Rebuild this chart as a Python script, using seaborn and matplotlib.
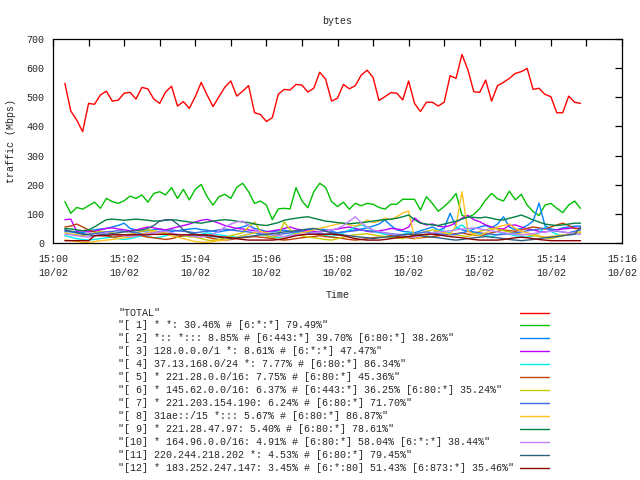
import pandas as pd
import matplotlib
matplotlib.use("Agg")
import matplotlib.pyplot as plt
import matplotlib.dates as mdates
from matplotlib.lines import Line2D
import seaborn as sns

# samples every 10 s, 15:00:20 .. 15:14:50
times = pd.date_range("2023-10-02 15:00:20", periods=88, freq="10s")

labels = [
    '"TOTAL"',
    '"[ 1] * *: 30.46% # [6:*:*] 79.49%"',
    '"[ 2] *:: *::: 8.85% # [6:443:*] 39.70% [6:80:*] 38.26%"',
    '"[ 3] 128.0.0.0/1 *: 8.61% # [6:*:*] 47.47%"',
    '"[ 4] 37.13.168.0/24 *: 7.77% # [6:80:*] 86.34%"',
    '"[ 5] * 221.28.0.0/16: 7.75% # [6:80:*] 45.36%"',
    '"[ 6] * 145.62.0.0/16: 6.37% # [6:443:*] 36.25% [6:80:*] 35.24%"',
    '"[ 7] * 221.203.154.190: 6.24% # [6:80:*] 71.70%"',
    '"[ 8] 31ae::/15 *::: 5.67% # [6:80:*] 86.87%"',
    '"[ 9] * 221.28.47.97: 5.40% # [6:80:*] 78.61%"',
    '"[10] * 164.96.0.0/16: 4.91% # [6:80:*] 58.04% [6:*:*] 38.44%"',
    '"[11] 220.244.218.202 *: 4.53% # [6:80:*] 79.45%"',
    '"[12] * 183.252.247.147: 3.45% # [6:*:80] 51.43% [6:873:*] 35.46%"',
]

# gnuplot default line colours
colors = ["#ff0000", "#00c000", "#0080ff", "#c000ff", "#00eeee", "#c04000",
          "#c8c800", "#4169e1", "#ffc020", "#008040", "#c080ff", "#306080",
          "#8b0000"]

total = [548, 453, 422, 382, 479, 476, 508, 521, 487, 490, 514,
         517, 494, 534, 529, 494, 479, 518, 538, 470, 485, 462,
         502, 551, 508, 468, 502, 535, 556, 504, 521, 540, 447,
         441, 417, 430, 510, 527, 525, 544, 542, 518, 531, 586,
         562, 487, 497, 544, 529, 540, 576, 593, 568, 489, 502,
         516, 514, 491, 556, 479, 451, 483, 483, 470, 483, 574,
         565, 647, 594, 519, 517, 559, 487, 540, 551, 565, 582,
         588, 599, 527, 531, 510, 502, 447, 447, 504, 483, 479]

s1 = [142, 102, 122, 116, 128, 140, 119, 153, 142, 136, 145,
      161, 153, 165, 140, 170, 176, 165, 190, 153, 184, 148,
      184, 201, 159, 130, 159, 167, 153, 191, 205, 176, 136,
      144, 130, 80, 117, 119, 117, 190, 144, 121, 176, 205,
      191, 142, 125, 140, 116, 136, 128, 136, 133, 122, 116,
      133, 133, 150, 150, 150, 113, 159, 136, 109, 125, 144,
      170, 95, 88, 98, 118, 148, 170, 152, 144, 178, 148,
      167, 130, 108, 94, 130, 136, 119, 104, 130, 144, 119]

s2 = [45, 40, 38, 35, 42, 45, 48, 50, 55, 60, 68,
      50, 45, 40, 42, 45, 48, 44, 40, 42, 45, 48,
      50, 46, 44, 40, 38, 42, 45, 50, 55, 62, 50,
      45, 40, 38, 42, 44, 40, 38, 42, 45, 48, 50,
      45, 40, 35, 38, 42, 45, 48, 52, 58, 65, 79,
      60, 45, 40, 38, 35, 42, 48, 55, 45, 50, 102,
      55, 45, 40, 48, 55, 60, 52, 65, 90, 55, 45,
      50, 60, 75, 137, 60, 48, 45, 52, 55, 58, 58]

s3 = [80, 82, 40, 42, 38, 40, 45, 50, 52, 48, 45,
      42, 45, 50, 55, 52, 48, 45, 50, 55, 60, 65,
      72, 78, 81, 75, 68, 60, 55, 50, 48, 45, 42,
      40, 38, 42, 45, 50, 55, 48, 45, 42, 40, 38,
      42, 45, 48, 52, 55, 50, 45, 40, 38, 42, 45,
      50, 48, 45, 55, 86, 70, 62, 65, 58, 55, 60,
      70, 85, 95, 80, 73, 62, 55, 50, 48, 60, 62,
      55, 48, 45, 40, 38, 42, 45, 48, 50, 52, 50]

s4 = [25, 20, 15, 12, 10, 12, 15, 18, 20, 15, 12,
      15, 20, 25, 22, 18, 20, 25, 30, 28, 25, 22,
      25, 30, 35, 32, 28, 25, 22, 20, 25, 30, 35,
      30, 25, 20, 18, 22, 28, 35, 40, 38, 35, 30,
      25, 22, 28, 35, 45, 55, 62, 55, 40, 35, 30,
      28, 25, 30, 35, 32, 28, 25, 35, 45, 40, 35,
      50, 62, 45, 35, 30, 25, 22, 28, 35, 30, 25,
      22, 20, 25, 35, 55, 40, 30, 25, 28, 30, 32]

s5 = [55, 58, 65, 55, 45, 38, 30, 25, 20, 22, 25,
      28, 30, 25, 20, 18, 15, 12, 15, 20, 25, 28,
      30, 25, 20, 15, 12, 10, 12, 15, 18, 20, 22,
      20, 18, 15, 12, 10, 12, 15, 18, 20, 22, 25,
      22, 20, 18, 15, 12, 10, 12, 15, 18, 20, 22,
      25, 22, 20, 18, 15, 18, 20, 22, 25, 28, 30,
      32, 35, 30, 28, 25, 30, 35, 40, 45, 42, 40,
      45, 50, 55, 52, 48, 55, 62, 68, 60, 50, 48]

s6 = [35, 30, 28, 25, 30, 35, 40, 38, 35, 30, 28,
      30, 35, 40, 45, 42, 38, 35, 30, 28, 25, 22,
      20, 15, 10, 8, 12, 18, 25, 30, 35, 55, 72,
      40, 25, 20, 25, 72, 45, 30, 25, 20, 18, 15,
      12, 10, 15, 20, 25, 28, 30, 32, 28, 25, 22,
      20, 18, 15, 22, 28, 35, 40, 45, 42, 35, 30,
      28, 25, 22, 30, 40, 45, 50, 48, 42, 38, 35,
      30, 28, 25, 22, 18, 15, 20, 25, 30, 35, 38]

s7 = [40, 38, 35, 32, 30, 32, 35, 38, 40, 42, 40,
      38, 35, 32, 35, 38, 40, 42, 45, 42, 40, 38,
      35, 38, 40, 42, 45, 48, 45, 42, 40, 38, 35,
      32, 30, 28, 30, 32, 35, 38, 40, 38, 35, 32,
      30, 32, 35, 38, 40, 42, 45, 42, 40, 38, 35,
      32, 30, 28, 30, 32, 35, 38, 35, 32, 30, 28,
      30, 35, 40, 38, 35, 32, 30, 28, 30, 32, 35,
      38, 42, 45, 48, 50, 45, 40, 38, 35, 40, 45]

s8 = [10, 8, 5, 3, 2, 5, 8, 10, 12, 15, 18,
      20, 25, 30, 35, 40, 35, 30, 25, 20, 15, 10,
      5, 3, 2, 5, 8, 10, 15, 20, 25, 30, 35,
      40, 35, 30, 25, 20, 25, 30, 35, 40, 45, 50,
      55, 60, 65, 68, 62, 58, 65, 79, 70, 75, 85,
      80, 90, 103, 110, 15, 20, 25, 35, 40, 35, 30,
      60, 176, 40, 30, 25, 35, 45, 55, 60, 65, 50,
      40, 35, 30, 25, 20, 22, 25, 28, 30, 32, 35]

s9 = [50, 48, 45, 42, 45, 55, 68, 80, 82, 80, 78,
      80, 82, 80, 78, 75, 76, 78, 80, 78, 75, 72,
      70, 68, 72, 75, 78, 80, 78, 75, 72, 70, 65,
      62, 60, 65, 70, 78, 82, 85, 88, 90, 85, 80,
      75, 73, 70, 68, 66, 68, 70, 72, 75, 78, 80,
      82, 85, 90, 96, 80, 68, 65, 62, 60, 65, 70,
      75, 82, 89, 88, 86, 89, 85, 80, 79, 85, 90,
      96, 88, 79, 72, 65, 62, 60, 62, 65, 68, 68]

s10 = [30, 28, 25, 22, 20, 25, 30, 35, 32, 28, 25,
       22, 25, 28, 32, 35, 38, 40, 35, 30, 28, 25,
       22, 20, 25, 30, 40, 55, 65, 72, 75, 60, 45,
       35, 30, 28, 25, 22, 25, 28, 30, 32, 35, 38,
       40, 45, 50, 60, 75, 90, 70, 55, 45, 40, 35,
       30, 28, 25, 22, 20, 25, 30, 35, 38, 40, 42,
       45, 48, 50, 52, 48, 45, 42, 38, 35, 32, 30,
       28, 30, 32, 35, 38, 40, 42, 38, 35, 32, 30]

s11 = [45, 40, 35, 30, 28, 25, 28, 30, 32, 35, 38,
       40, 42, 45, 50, 60, 75, 80, 80, 65, 45, 35,
       30, 28, 25, 22, 20, 18, 15, 18, 20, 22, 25,
       28, 30, 32, 35, 38, 40, 42, 45, 48, 50, 45,
       40, 35, 30, 28, 25, 22, 20, 18, 15, 18, 20,
       22, 25, 28, 30, 28, 25, 22, 20, 18, 15, 12,
       10, 12, 15, 18, 20, 22, 20, 18, 15, 12, 10,
       8, 10, 12, 15, 18, 20, 22, 25, 28, 30, 55]

s12 = [8, 8, 8, 8, 8, 25, 25, 25, 28, 28, 28,
       28, 28, 28, 28, 30, 30, 30, 30, 28, 28, 28,
       28, 28, 28, 25, 22, 20, 18, 15, 12, 10, 10,
       10, 10, 10, 12, 15, 20, 25, 28, 30, 30, 30,
       30, 30, 28, 25, 20, 15, 12, 10, 10, 10, 12,
       15, 18, 20, 22, 25, 28, 30, 30, 28, 25, 22,
       20, 18, 15, 12, 10, 10, 10, 10, 12, 15, 18,
       20, 18, 15, 12, 10, 8, 8, 8, 8, 8, 8]

all_series = [total, s1, s2, s3, s4, s5, s6, s7, s8, s9, s10, s11, s12]

df = pd.concat(
    [pd.DataFrame({"time": times, "traffic": vals, "series": name})
     for name, vals in zip(labels, all_series)],
    ignore_index=True,
)

fs = 7.2
sns.set_style("white")
plt.rcParams["font.family"] = ["Liberation Mono", "DejaVu Sans Mono"]
plt.rcParams["font.size"] = fs

fig = plt.figure(figsize=(6.4, 4.8), dpi=100)
ax = fig.add_axes([53 / 640, 1 - 243 / 480, 569 / 640, 204 / 480])

sns.lineplot(data=df, x="time", y="traffic", hue="series", hue_order=labels,
             palette=colors, linewidth=1.0, estimator=None, legend=False, ax=ax)

ax.set_xlim(pd.Timestamp("2023-10-02 15:00"), pd.Timestamp("2023-10-02 15:16"))
ax.set_ylim(0, 700)
ax.set_yticks(range(0, 701, 100))
ax.xaxis.set_major_locator(mdates.MinuteLocator(interval=2))
ax.xaxis.set_minor_locator(mdates.MinuteLocator(interval=1))
ax.xaxis.set_major_formatter(mdates.DateFormatter("%H:%M\n%m/%d"))

for s in ax.spines.values():
    s.set_color("black")
    s.set_linewidth(0.9)
ax.tick_params(which="both", direction="in", length=5, width=0.9,
               top=True, right=True, color="black", labelsize=fs, pad=6)
ax.tick_params(axis="x", pad=8)
for t in ax.get_xticklabels():
    t.set_linespacing(1.45)

ax.set_title("bytes", fontsize=fs, pad=11)
ax.set_xlabel("Time", fontsize=fs, labelpad=9)
ax.set_ylabel("traffic (Mbps)", fontsize=fs, labelpad=8)

# key below the plot: text on the left, sample line on the right
for i, (name, c) in enumerate(zip(labels, colors)):
    y = 1 - (312.5 + i * 12.98) / 480
    fig.text(118 / 640, y, name, ha="left", va="center", fontsize=fs)
    fig.add_artist(Line2D([520 / 640, 549 / 640], [y, y], color=c, lw=1.0,
                          transform=fig.transFigure))

fig.savefig("out.png", dpi=100)
